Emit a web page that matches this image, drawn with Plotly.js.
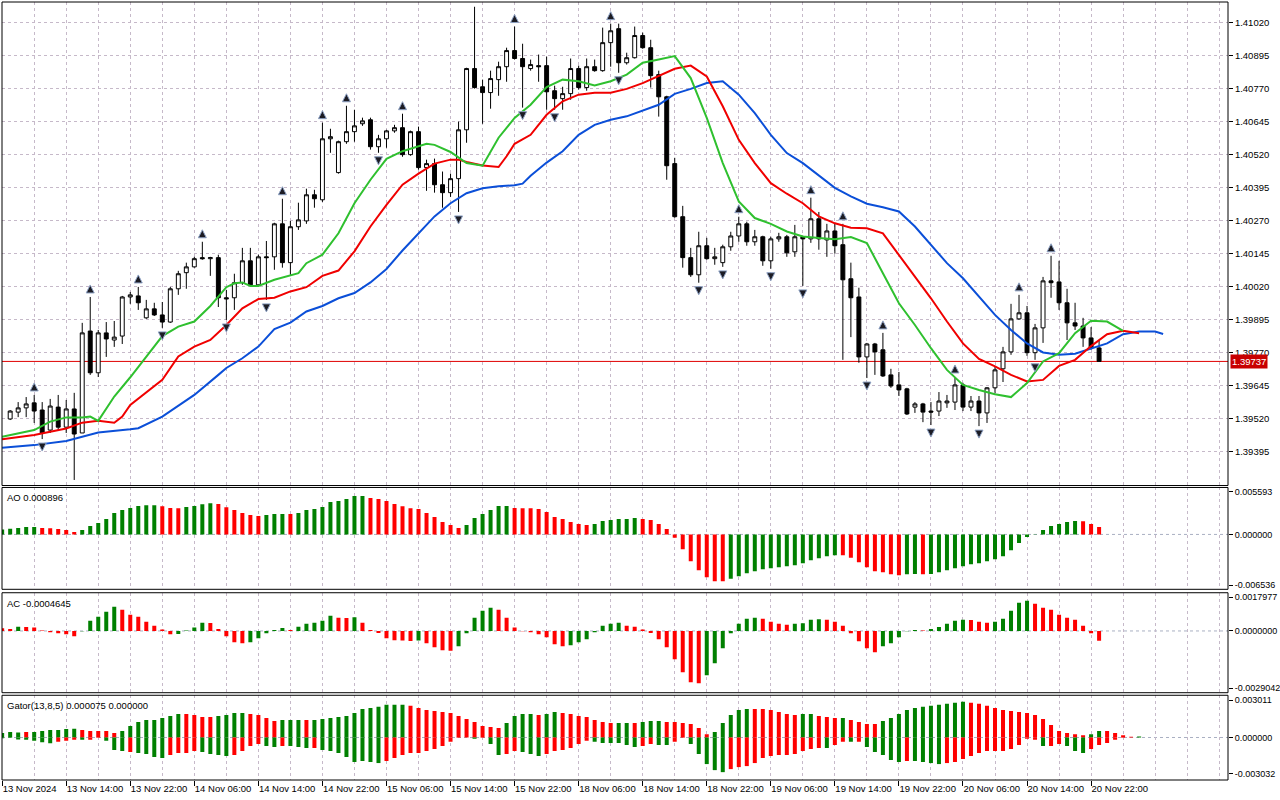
<!DOCTYPE html>
<html>
<head>
<meta charset="utf-8">
<script src="https://cdn.plot.ly/plotly-3.0.1.min.js"></script>
<style>
html,body{margin:0;padding:0;background:#fff;}
#chart{width:1280px;height:800px;}
</style>
</head>
<body>
<div id="chart"></div>
<script>
// ---------------- DATA ----------------
// Time labels of the bottom axis (one every 8 H1 bars, first bar index 0 = 13 Nov 06:00)
const timeLabels = ["13 Nov 2024","13 Nov 14:00","13 Nov 22:00","14 Nov 06:00","14 Nov 14:00","14 Nov 22:00",
  "15 Nov 06:00","15 Nov 14:00","15 Nov 22:00","18 Nov 06:00","18 Nov 14:00","18 Nov 22:00",
  "19 Nov 06:00","19 Nov 14:00","19 Nov 22:00","20 Nov 06:00","20 Nov 14:00","20 Nov 22:00"];

// Candles: bars 1..137
const opens = [1.39519,1.39545,1.39561,1.39580,1.39553,1.39477,1.39564,1.39488,1.39557,1.39466,
1.39852,1.39694,1.39845,1.39818,1.39833,1.39981,1.39985,1.39902,1.39936,1.39913,
1.39886,1.40012,1.40073,1.40095,1.40130,1.40126,1.40130,1.39978,1.39978,1.40035,
1.40118,1.40027,1.40133,1.40133,1.40258,1.40111,1.40247,1.40269,1.40368,1.40349,
1.40580,1.40452,1.40569,1.40607,1.40637,1.40652,1.40550,1.40580,1.40610,1.40622,
1.40520,1.40607,1.40471,1.40486,1.40406,1.40376,1.40429,1.40614,1.40846,1.40777,
1.40755,1.40804,1.40853,1.40914,1.40884,1.40846,1.40857,1.40857,1.40762,1.40732,
1.40751,1.40846,1.40774,1.40853,1.40838,1.40944,1.40997,1.40868,1.40887,1.40971,
1.40925,1.40823,1.40739,1.40486,1.40285,1.40130,1.40065,1.40175,1.40126,1.40111,
1.40171,1.40212,1.40258,1.40190,1.40209,1.40118,1.40201,1.40209,1.40152,1.40209,
1.40201,1.40277,1.40197,1.40231,1.40179,1.40050,1.39981,1.39754,1.39803,1.39781,
1.39686,1.39648,1.39633,1.39564,1.39576,1.39549,1.39549,1.39580,1.39583,1.39648,
1.39564,1.39587,1.39542,1.39637,1.39709,1.39773,1.39898,1.39921,1.39770,1.39864,
1.40042,1.40038,1.39959,1.39883,1.39871,1.39826,1.39788];
const highs = [1.39553,1.39583,1.39602,1.39610,1.39583,1.39595,1.39610,1.39591,1.39618,1.39883,
1.39981,1.39856,1.39886,1.39890,1.39985,1.40000,1.40019,1.39970,1.39959,1.39962,
1.40019,1.40080,1.40111,1.40133,1.40190,1.40133,1.40141,1.40008,1.40069,1.40167,
1.40167,1.40141,1.40193,1.40262,1.40353,1.40269,1.40338,1.40391,1.40387,1.40641,
1.40618,1.40573,1.40705,1.40690,1.40660,1.40660,1.40595,1.40614,1.40633,1.40675,
1.40611,1.40626,1.40501,1.40505,1.40456,1.40448,1.40645,1.40849,1.41080,1.40804,
1.40838,1.40872,1.40925,1.41005,1.40940,1.40880,1.40899,1.40891,1.40781,1.40777,
1.40884,1.40857,1.40884,1.40880,1.41001,1.41016,1.41016,1.40906,1.41005,1.40982,
1.40955,1.40838,1.40743,1.40508,1.40326,1.40167,1.40228,1.40205,1.40167,1.40179,
1.40228,1.40285,1.40266,1.40235,1.40213,1.40209,1.40224,1.40216,1.40254,1.40213,
1.40357,1.40303,1.40258,1.40262,1.40258,1.40111,1.40016,1.39807,1.39807,1.39845,
1.39709,1.39697,1.39637,1.39583,1.39580,1.39583,1.39621,1.39610,1.39678,1.39656,
1.39606,1.39606,1.39640,1.39716,1.39792,1.39955,1.39989,1.39947,1.39879,1.40057,
1.40137,1.40118,1.40012,1.39959,1.39902,1.39867,1.39818];
const lows = [1.39515,1.39526,1.39526,1.39504,1.39443,1.39466,1.39477,1.39466,1.39288,1.39466,
1.39686,1.39678,1.39754,1.39792,1.39803,1.39955,1.39932,1.39898,1.39909,1.39864,
1.39883,1.39989,1.40012,1.40092,1.40122,1.40061,1.39943,1.39894,1.39932,1.40027,
1.40023,1.40023,1.39970,1.40084,1.40092,1.40065,1.40235,1.40258,1.40319,1.40341,
1.40527,1.40448,1.40561,1.40569,1.40629,1.40539,1.40527,1.40546,1.40603,1.40512,
1.40516,1.40463,1.40383,1.40376,1.40319,1.40360,1.40303,1.40565,1.40770,1.40637,
1.40694,1.40743,1.40796,1.40880,1.40698,1.40838,1.40796,1.40690,1.40690,1.40690,
1.40728,1.40766,1.40762,1.40834,1.40834,1.40853,1.40830,1.40861,1.40884,1.40921,
1.40774,1.40664,1.40425,1.40281,1.40092,1.40057,1.40035,1.40122,1.40103,1.40095,
1.40156,1.40190,1.40175,1.40175,1.40099,1.40088,1.40190,1.40133,1.40133,1.40023,
1.40186,1.40160,1.40133,1.40145,1.39743,1.39829,1.39732,1.39674,1.39686,1.39678,
1.39637,1.39606,1.39534,1.39542,1.39507,1.39496,1.39530,1.39561,1.39553,1.39549,
1.39549,1.39492,1.39504,1.39618,1.39659,1.39762,1.39894,1.39758,1.39743,1.39807,
1.39978,1.39932,1.39818,1.39856,1.39792,1.39781,1.39737];
const closes = [1.39549,1.39561,1.39576,1.39549,1.39466,1.39568,1.39488,1.39557,1.39462,1.39845,
1.39694,1.39845,1.39822,1.39829,1.39981,1.39989,1.39959,1.39936,1.39913,1.39886,
1.40012,1.40069,1.40095,1.40126,1.40126,1.40130,1.39978,1.39974,1.40035,1.40118,
1.40027,1.40133,1.40130,1.40258,1.40111,1.40247,1.40273,1.40368,1.40353,1.40580,
1.40588,1.40569,1.40607,1.40629,1.40648,1.40550,1.40580,1.40610,1.40622,1.40520,
1.40607,1.40471,1.40486,1.40406,1.40376,1.40429,1.40614,1.40846,1.40774,1.40755,
1.40808,1.40853,1.40914,1.40884,1.40853,1.40861,1.40853,1.40758,1.40732,1.40751,
1.40846,1.40774,1.40853,1.40838,1.40944,1.40989,1.40868,1.40887,1.40971,1.40925,
1.40819,1.40739,1.40478,1.40285,1.40130,1.40065,1.40175,1.40126,1.40133,1.40171,
1.40212,1.40258,1.40190,1.40209,1.40118,1.40201,1.40209,1.40148,1.40209,1.40201,
1.40277,1.40201,1.40231,1.40175,1.40046,1.39978,1.39754,1.39803,1.39773,1.39682,
1.39644,1.39629,1.39538,1.39576,1.39545,1.39545,1.39587,1.39587,1.39648,1.39564,
1.39587,1.39542,1.39637,1.39705,1.39773,1.39898,1.39921,1.39770,1.39864,1.40042,
1.40035,1.39959,1.39883,1.39871,1.39826,1.39788,1.39737];
const lastPrice = 1.39737;

// Bill Williams fractals (bar numbers)
const fractalUpBars = [4,11,17,25,35,40,43,50,59,64,76,92,101,105,110,119,127,131];
const fractalDownBars = [5,9,20,28,33,47,57,65,69,77,87,90,96,100,108,116,122,129];

// Alligator lines (sampled bar numbers and values, as read)
const jawBars = [0,4,8,12,16,17,20,24,27,28,30,32,34,36,38,40,42,44,46,48,50,52,54,56,58,60,62,64,65,66,68,70,72,74,76,78,80,82,84,86,88,90,92,94,96,98,100,102,104,106,108,110,112,114,116,118,120,122,124,126,128,130,132,134,136,138,140,142,144,145];
const jawValues = [1.39410,1.39420,1.39436,1.39468,1.39480,1.39484,1.39528,1.39610,1.39686,1.39712,
1.39749,1.39793,1.39859,1.39884,1.39926,1.39947,1.39976,1.39996,1.40036,1.40087,
1.40157,1.40222,1.40286,1.40336,1.40374,1.40393,1.40400,1.40404,1.40410,1.40440,
1.40490,1.40533,1.40595,1.40633,1.40652,1.40665,1.40686,1.40709,1.40750,1.40769,
1.40791,1.40798,1.40747,1.40677,1.40595,1.40526,1.40488,1.40440,1.40394,1.40362,
1.40334,1.40321,1.40305,1.40248,1.40178,1.40109,1.40052,1.39983,1.39913,1.39856,
1.39805,1.39771,1.39762,1.39766,1.39787,1.39805,1.39840,1.39850,1.39850,1.39841];
const teethBars = [0,4,8,10,12,14,15,16,20,22,24,26,28,30,32,34,36,38,40,42,44,46,48,50,52,54,56,57,58,60,62,63,64,66,68,70,72,74,76,78,80,82,84,86,88,90,92,94,96,98,100,102,104,106,108,110,112,114,116,118,120,122,124,126,128,130,132,134,136,138,140,142];
const teethValues = [1.39442,1.39458,1.39483,1.39505,1.39512,1.39505,1.39528,1.39572,1.39667,1.39756,
1.39793,1.39818,1.39875,1.39938,1.39973,1.39978,1.40002,1.40018,1.40061,1.40081,
1.40154,1.40248,1.40330,1.40406,1.40448,1.40486,1.40501,1.40501,1.40492,1.40479,
1.40473,1.40514,1.40561,1.40595,1.40671,1.40722,1.40747,1.40754,1.40754,1.40769,
1.40791,1.40819,1.40845,1.40857,1.40816,1.40703,1.40576,1.40488,1.40412,1.40372,
1.40336,1.40286,1.40260,1.40243,1.40241,1.40222,1.40141,1.40059,1.39976,1.39888,
1.39805,1.39746,1.39718,1.39686,1.39661,1.39667,1.39720,1.39743,1.39795,1.39840,
1.39853,1.39844];
const lipsBars = [0,4,6,8,10,11,12,14,16,18,20,22,24,26,28,29,30,31,32,34,36,37,38,40,42,44,46,48,50,52,53,54,56,58,60,62,64,66,68,70,72,74,76,78,80,82,84,86,88,90,92,94,96,98,100,102,104,106,108,110,112,114,116,118,120,122,124,126,128,130,132,134,136,138,140];
const lipsValues = [1.39452,1.39477,1.39509,1.39525,1.39525,1.39528,1.39512,1.39604,1.39677,1.39756,
1.39833,1.39869,1.39888,1.39947,1.40018,1.40033,1.40036,1.40023,1.40023,1.40046,
1.40061,1.40071,1.40109,1.40141,1.40222,1.40336,1.40425,1.40504,1.40533,1.40553,
1.40561,1.40557,1.40530,1.40488,1.40478,1.40584,1.40659,1.40709,1.40776,1.40804,
1.40798,1.40782,1.40798,1.40823,1.40868,1.40880,1.40893,1.40810,1.40659,1.40488,
1.40343,1.40280,1.40258,1.40229,1.40210,1.40204,1.40200,1.40208,1.40185,1.40071,
1.39957,1.39875,1.39787,1.39705,1.39648,1.39629,1.39613,1.39602,1.39655,1.39737,
1.39768,1.39844,1.39891,1.39888,1.39853];

// Awesome Oscillator, bars 0..137
const aoValues = [0.000597,0.000677,0.000756,0.000876,0.00088,0.000756,0.00075,0.000637,0.000517,0.000279,
0.000517,0.000995,0.001353,0.001831,0.002547,0.002905,0.003144,0.003383,0.003463,0.00347,
0.003343,0.003144,0.00313,0.003264,0.003383,0.003582,0.003701,0.003622,0.003224,0.002905,
0.002547,0.002308,0.002189,0.002308,0.002428,0.00244,0.00242,0.002547,0.002905,0.003025,
0.003264,0.003861,0.00398,0.004219,0.004577,0.00459,0.004338,0.004219,0.00398,0.003622,
0.003343,0.003104,0.003025,0.002547,0.00207,0.001473,0.001114,0.000756,0.001114,0.00195,
0.002428,0.002905,0.003383,0.0034,0.003144,0.00313,0.00312,0.003025,0.002667,0.00207,
0.001831,0.001473,0.001234,0.001114,0.001234,0.001592,0.001711,0.001831,0.00184,0.00195,
0.001831,0.001711,0.001234,0.000637,-0.000398,-0.001751,-0.003184,-0.004259,-0.005094,-0.005572,
-0.00558,-0.005293,-0.004975,-0.004617,-0.004378,-0.004139,-0.00402,-0.0039,-0.003781,-0.003662,
-0.003423,-0.003065,-0.002826,-0.002587,-0.002468,-0.00248,-0.002786,-0.003303,-0.0039,-0.004378,
-0.004497,-0.004736,-0.004856,-0.004736,-0.00472,-0.00473,-0.00471,-0.004497,-0.004259,-0.00402,
-0.003781,-0.003542,-0.003423,-0.003184,-0.002945,-0.002587,-0.001871,-0.001035,-0.000318,-0.00004,
0.000517,0.000995,0.001234,0.001473,0.001592,0.00158,0.001234,0.000896];

// Accelerator Oscillator, bars 0..137
const acValues = [125e-6,94e-6,204e-6,188e-6,157e-6,16e-6,-63e-6,-110e-6,-157e-6,-251e-6,
-16e-6,486e-6,674e-6,909e-6,1144e-6,1003e-6,768e-6,674e-6,439e-6,251e-6,
63e-6,-157e-6,-141e-6,16e-6,157e-6,392e-6,376e-6,94e-6,-251e-6,-533e-6,
-580e-6,-533e-6,-345e-6,-110e-6,47e-6,141e-6,47e-6,204e-6,345e-6,392e-6,
486e-6,721e-6,627e-6,611e-6,642e-6,392e-6,47e-6,-94e-6,-345e-6,-439e-6,
-454e-6,-470e-6,-454e-6,-580e-6,-768e-6,-909e-6,-925e-6,-721e-6,-110e-6,627e-6,
956e-6,1097e-6,1003e-6,627e-6,157e-6,-16e-6,-63e-6,-157e-6,-298e-6,-627e-6,
-721e-6,-674e-6,-533e-6,-392e-6,-63e-6,251e-6,345e-6,392e-6,251e-6,204e-6,
63e-6,-94e-6,-392e-6,-768e-6,-1332e-6,-1943e-6,-2413e-6,-2460e-6,-2084e-6,-1520e-6,
-815e-6,-110e-6,345e-6,580e-6,627e-6,580e-6,439e-6,345e-6,298e-6,345e-6,
360e-6,533e-6,548e-6,533e-6,439e-6,251e-6,-110e-6,-486e-6,-815e-6,-1003e-6,
-721e-6,-580e-6,-298e-6,-16e-6,47e-6,16e-6,94e-6,188e-6,345e-6,486e-6,
533e-6,517e-6,439e-6,392e-6,439e-6,580e-6,956e-6,1332e-6,1426e-6,1285e-6,
1097e-6,1003e-6,768e-6,627e-6,533e-6,251e-6,-110e-6,-465e-6];

// Gator Oscillator, bars 0..142 (upper and lower histograms) and their rise(g)/fall(r) states
const gatorUpper = [312e-6,384e-6,360e-6,384e-6,384e-6,456e-6,528e-6,528e-6,600e-6,624e-6,
528e-6,456e-6,456e-6,456e-6,312e-6,456e-6,816e-6,1104e-6,1248e-6,1248e-6,
1392e-6,1536e-6,1680e-6,1680e-6,1608e-6,1464e-6,1464e-6,1536e-6,1608e-6,1752e-6,
1752e-6,1680e-6,1608e-6,1392e-6,1176e-6,1248e-6,1248e-6,1248e-6,1248e-6,1248e-6,
1320e-6,1392e-6,1464e-6,1536e-6,1752e-6,2040e-6,2112e-6,2184e-6,2328e-6,2328e-6,
2328e-6,2256e-6,2112e-6,1968e-6,1896e-6,1824e-6,1752e-6,1536e-6,1320e-6,1104e-6,
816e-6,744e-6,672e-6,1032e-6,1536e-6,1680e-6,1680e-6,1608e-6,1680e-6,1824e-6,
1752e-6,1680e-6,1536e-6,1464e-6,1248e-6,1104e-6,1032e-6,1032e-6,1032e-6,1032e-6,
1104e-6,1176e-6,1176e-6,1104e-6,1104e-6,1032e-6,960e-6,672e-6,240e-6,384e-6,
1032e-6,1608e-6,1968e-6,2040e-6,2040e-6,2040e-6,1968e-6,1824e-6,1680e-6,1608e-6,
1680e-6,1680e-6,1536e-6,1464e-6,1392e-6,1392e-6,1248e-6,1104e-6,960e-6,960e-6,
1176e-6,1392e-6,1680e-6,1968e-6,2112e-6,2184e-6,2256e-6,2328e-6,2400e-6,2472e-6,
2544e-6,2472e-6,2400e-6,2256e-6,2112e-6,1968e-6,1896e-6,1824e-6,1752e-6,1608e-6,
1320e-6,888e-6,456e-6,312e-6,240e-6,168e-6,240e-6,456e-6,456e-6,312e-6,
168e-6,60e-6,75e-6];
const gatorLower = [-48e-6,-24e-6,-144e-6,-168e-6,-240e-6,-336e-6,-408e-6,-312e-6,-240e-6,-168e-6,
-168e-6,-168e-6,-24e-6,-240e-6,-888e-6,-960e-6,-1032e-6,-1104e-6,-1176e-6,-1392e-6,
-1464e-6,-1248e-6,-1104e-6,-1104e-6,-960e-6,-1032e-6,-1176e-6,-1248e-6,-1320e-6,-1248e-6,
-960e-6,-600e-6,-456e-6,-600e-6,-672e-6,-600e-6,-600e-6,-672e-6,-744e-6,-744e-6,
-888e-6,-960e-6,-1104e-6,-1392e-6,-1752e-6,-1680e-6,-1752e-6,-1824e-6,-1680e-6,-1464e-6,
-1248e-6,-1104e-6,-1104e-6,-960e-6,-816e-6,-600e-6,-312e-6,-24e-6,0,-96e-6,
-24e-6,-456e-6,-1248e-6,-1176e-6,-960e-6,-1032e-6,-1176e-6,-1320e-6,-1176e-6,-960e-6,
-888e-6,-744e-6,-456e-6,-240e-6,-312e-6,-384e-6,-384e-6,-384e-6,-528e-6,-672e-6,
-600e-6,-456e-6,-528e-6,-528e-6,-312e-6,-24e-6,-456e-6,-1176e-6,-1896e-6,-2328e-6,
-2472e-6,-2256e-6,-2112e-6,-2040e-6,-1824e-6,-1464e-6,-1320e-6,-1248e-6,-1248e-6,-1176e-6,
-960e-6,-816e-6,-744e-6,-744e-6,-528e-6,-312e-6,-312e-6,-312e-6,-672e-6,-1032e-6,
-1248e-6,-1608e-6,-1752e-6,-1680e-6,-1680e-6,-1752e-6,-1824e-6,-1896e-6,-1824e-6,-1752e-6,
-1536e-6,-1320e-6,-1104e-6,-960e-6,-960e-6,-960e-6,-816e-6,-528e-6,-96e-6,-168e-6,
-600e-6,-600e-6,-456e-6,-600e-6,-960e-6,-1104e-6,-816e-6,-528e-6,-384e-6,-168e-6,
-24e-6,0,0];
const gatorUpperState = ["gggrgggggg","rrrrrggggg","gggrrrrggg","grrrrgggrg","gggggggggg",
  "grrrrrrrrr","rrrggggrgg","rrrrrrrggr","gggrrrrrrg","ggggrrrrrr","ggrrrgrrrr",
  "gggggggggg","grrrrrrrrr","rrrrrrggrr","rrg"].join("");
const gatorLowerState = ["gggggggrrr","grrgggrggg","grrrrggggr","rrrggrgggr","ggggggggrr",
  "rrrrrrrrrg","rggrrgggrr","rrrrgggggg","rrggrrgggg","grrrrrrrrr","rrrgrrgrgg",
  "gggrggggrr","rrrrrrrrrr","grrgggrrrr","rrr"].join("");

const aoLabel = "AO 0.000896";
const acLabel = "AC -0.0004645";
const gatorLabel = "Gator(13,8,5) 0.000075 0.000000";
const priceTicks = [1.39395,1.39520,1.39645,1.39770,1.39895,1.40020,1.40145,1.40270,1.40395,1.40520,1.40645,1.40770,1.40895,1.41020];
const aoScale = [0.005593, -0.006536];
const acScale = [0.0017977, -0.0029042];
const gatorScale = [0.003011, -0.003032];

// ---------------- STYLE ----------------
const GREEN = '#008000', RED = '#ff0000';
const GRID = '#c6b9c9';
const FONT = 'Liberation Sans, Arial, sans-serif';
const PX = 0.0000379; // price per pixel in the main panel (for marker offsets)

const candleX = opens.map((_, i) => i + 1);
const oscX = aoValues.map((_, i) => i);
const gatorX = gatorUpper.map((_, i) => i);

const aoColors = aoValues.map((v, i) => i === 0 ? GREEN : (v > aoValues[i-1] ? GREEN : RED));
const acColors = acValues.map((v, i) => i === 0 ? RED : (v > acValues[i-1] ? GREEN : RED));
const guColors = gatorX.map(i => gatorUpperState[i] === 'g' ? GREEN : RED);
const glColors = gatorX.map(i => gatorLowerState[i] === 'g' ? GREEN : RED);

const traces = [
  {type:'scatter', mode:'lines', x:jawBars, y:jawValues, line:{color:'#0b4fd8', width:2}, hoverinfo:'skip', xaxis:'x', yaxis:'y'},
  {type:'scatter', mode:'lines', x:teethBars, y:teethValues, line:{color:'#f00000', width:2}, hoverinfo:'skip', xaxis:'x', yaxis:'y'},
  {type:'scatter', mode:'lines', x:lipsBars, y:lipsValues, line:{color:'#2fc02f', width:2}, hoverinfo:'skip', xaxis:'x', yaxis:'y'},
  {type:'candlestick', x:candleX, open:opens, high:highs, low:lows, close:closes,
   increasing:{line:{color:'#000', width:1}, fillcolor:'#fff'},
   decreasing:{line:{color:'#000', width:1}, fillcolor:'#000'},
   whiskerwidth:0, hoverinfo:'skip', xaxis:'x', yaxis:'y'},
  {type:'scatter', mode:'markers', x:fractalUpBars, y:fractalUpBars.map(b => highs[b-1] + 12*PX),
   marker:{symbol:'arrow-up', size:8, color:'#1c1c24', line:{color:'#8ea2c4', width:1}},
   cliponaxis:false, hoverinfo:'skip', xaxis:'x', yaxis:'y'},
  {type:'scatter', mode:'markers', x:fractalDownBars, y:fractalDownBars.map(b => lows[b-1] - 12*PX),
   marker:{symbol:'arrow-down', size:8, color:'#1c1c24', line:{color:'#8ea2c4', width:1}},
   hoverinfo:'skip', xaxis:'x', yaxis:'y'},
  {type:'bar', x:oscX, y:aoValues, marker:{color:aoColors, line:{width:0}}, width:0.5, hoverinfo:'skip', xaxis:'x', yaxis:'y2'},
  {type:'bar', x:oscX, y:acValues, marker:{color:acColors, line:{width:0}}, width:0.5, hoverinfo:'skip', xaxis:'x', yaxis:'y3'},
  {type:'bar', x:gatorX, y:gatorUpper, marker:{color:guColors, line:{width:0}}, width:0.5, hoverinfo:'skip', xaxis:'x', yaxis:'y4'},
  {type:'bar', x:gatorX, y:gatorLower, marker:{color:glColors, line:{width:0}}, width:0.5, hoverinfo:'skip', xaxis:'x', yaxis:'y4'}
];

const labelBars = timeLabels.map((_, i) => i * 8);
const gridBars = [];
for (let b = 0; b <= 152; b += 4) gridBars.push(b);

function oscAxis(domain, scale, insideTop, insideBottom, texts) {
  const span = scale[0] - scale[1];
  return {
    domain: domain, range: [scale[1], scale[0]], side:'right', anchor:'x',
    tickmode:'array',
    tickvals:[scale[0] - span*insideTop, 0, scale[1] + span*insideBottom],
    ticktext: texts,
    ticks:'outside', ticklen:4, tickcolor:'#000', tickfont:{family:FONT, size:9, color:'#000'},
    showgrid:false, zeroline:false, showline:false, fixedrange:true
  };
}

function panelBox(yref) {
  return {type:'rect', xref:'paper', yref:yref, x0:0, x1:1, y0:0, y1:1, line:{color:'#000', width:1}, fillcolor:'rgba(0,0,0,0)', layer:'above'};
}
function zeroLine(yref) {
  return {type:'line', xref:'paper', yref:yref, x0:0, x1:1, y0:0, y1:0, line:{color:'#a9b0c2', width:1, dash:'3px,3px'}, layer:'below'};
}

const layout = {
  width:1280, height:800,
  margin:{l:2, r:52, t:2, b:20, pad:0},
  paper_bgcolor:'#fff', plot_bgcolor:'#fff',
  showlegend:false, barmode:'overlay',
  font:{family:FONT, size:9.5, color:'#000'},
  xaxis:{
    domain:[0,1], range:[-0.02, 153.1], anchor:'y4',
    tickmode:'array', tickvals:labelBars, ticktext:timeLabels,
    ticks:'outside', ticklen:5, tickcolor:'#000', ticklabelposition:'outside right', tickangle:0,
    tickfont:{family:FONT, size:9.5, color:'#000'},
    showgrid:false, zeroline:false, showline:false, fixedrange:true,
    rangeslider:{visible:false},
    minor:{tickmode:'array', tickvals:gridBars, showgrid:true, gridcolor:GRID, griddash:'3px,3px', gridwidth:1, ticks:''}
  },
  yaxis:{
    domain:[0.3785, 1], range:[1.39267, 1.41098], side:'right', anchor:'x',
    tickmode:'array', tickvals:priceTicks, ticktext:priceTicks.map(v => v.toFixed(5)),
    ticks:'outside', ticklen:4, tickcolor:'#000', tickfont:{family:FONT, size:9.5, color:'#000'},
    showgrid:true, gridcolor:GRID, griddash:'3px,3px', gridwidth:1,
    zeroline:false, showline:false, fixedrange:true
  },
  yaxis2: oscAxis([0.2451, 0.3760], aoScale, 0.043, 0.041, ['0.005593','0.000000','-0.006536']),
  yaxis3: oscAxis([0.1122, 0.2407], acScale, 0.046, 0.047, ['0.0017977','0.0000000','-0.0029042']),
  yaxis4: oscAxis([0, 0.1089], gatorScale, 0.056, 0.071, ['0.003011','0.000000','-0.003032']),
  shapes:[
    zeroLine('y2'), zeroLine('y3'), zeroLine('y4'),
    {type:'line', xref:'paper', yref:'y', x0:0, x1:1, y0:lastPrice, y1:lastPrice, line:{color:'#e00000', width:1}, layer:'below'},
    panelBox('y domain'), panelBox('y2 domain'), panelBox('y3 domain'), panelBox('y4 domain')
  ],
  annotations:[
    {xref:'paper', yref:'y', x:1, y:lastPrice, xanchor:'left', yanchor:'middle', xshift:2, showarrow:false,
     text:lastPrice.toFixed(5), font:{family:FONT, size:9.5, color:'#fff'}, bgcolor:'#c80000', borderpad:1},
    {xref:'paper', yref:'y2 domain', x:0, y:1, xanchor:'left', yanchor:'top', xshift:3, yshift:-3, showarrow:false,
     text:aoLabel, font:{family:FONT, size:9.5, color:'#000'}},
    {xref:'paper', yref:'y3 domain', x:0, y:1, xanchor:'left', yanchor:'top', xshift:3, yshift:-3, showarrow:false,
     text:acLabel, font:{family:FONT, size:9.5, color:'#000'}},
    {xref:'paper', yref:'y4 domain', x:0, y:1, xanchor:'left', yanchor:'top', xshift:3, yshift:-3, showarrow:false,
     text:gatorLabel, font:{family:FONT, size:9.5, color:'#000'}}
  ]
};

Plotly.newPlot('chart', traces, layout, {displayModeBar:false, staticPlot:true});
</script>
</body>
</html>
